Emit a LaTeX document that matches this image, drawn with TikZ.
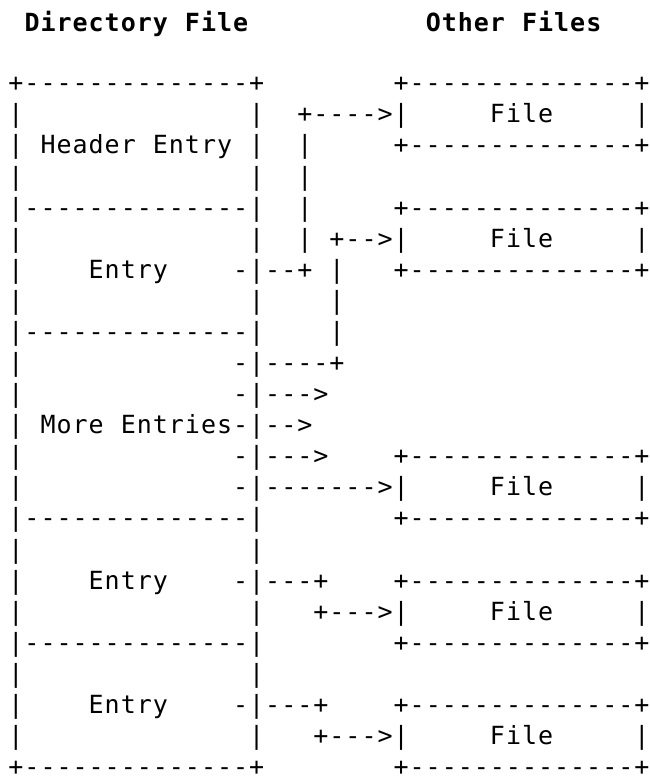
\documentclass[tikz,border=0pt]{standalone}
\usepackage{fontspec}
\newfontfamily\monof{DejaVu Sans Mono}
\ExplSyntaxOn
\NewDocumentCommand \asciirow { m }
  {
    \str_map_inline:nn {#1}
      {
        \str_if_eq:nnTF {##1} {.}
          { \hbox_to_wd:nn {16.05pt} { \hfil } }
          { \hbox_to_wd:nn {16.05pt} { \hfil ##1 \hfil } }
      }
  }
\ExplSyntaxOff
\tikzset{
  asciiline/.style={anchor=base west, inner sep=0pt, outer sep=0pt,
    font=\monof\fontsize{25pt}{31pt}\selectfont},
  asciititle/.style={asciiline, font=\monof\bfseries\fontsize{25pt}{31pt}\selectfont}
}
\begin{document}
\begin{tikzpicture}[x=1pt,y=1pt]
\useasboundingbox (0,0) rectangle (650,-776);
\def\lx{7.975}
\node[asciititle] (title) at (\lx,-31.7) {\asciirow{.Directory.File...........Other.Files}};
\node[asciiline] (r3)  at (\lx,{-91.8-0*31.08})  {\asciirow{+--------------+........+--------------+}};
\node[asciiline] (r4)  at (\lx,{-91.8-1*31.08})  {\asciirow{|..............|..+---->|.....File.....|}};
\node[asciiline] (r5)  at (\lx,{-91.8-2*31.08})  {\asciirow{|.Header.Entry.|..|.....+--------------+}};
\node[asciiline] (r6)  at (\lx,{-91.8-3*31.08})  {\asciirow{|..............|..|}};
\node[asciiline] (r7)  at (\lx,{-91.8-4*31.08})  {\asciirow{|--------------|..|.....+--------------+}};
\node[asciiline] (r8)  at (\lx,{-91.8-5*31.08})  {\asciirow{|..............|..|.+-->|.....File.....|}};
\node[asciiline] (r9)  at (\lx,{-91.8-6*31.08})  {\asciirow{|....Entry....-|--+.|...+--------------+}};
\node[asciiline] (r10) at (\lx,{-91.8-7*31.08})  {\asciirow{|..............|....|}};
\node[asciiline] (r11) at (\lx,{-91.8-8*31.08})  {\asciirow{|--------------|....|}};
\node[asciiline] (r12) at (\lx,{-91.8-9*31.08})  {\asciirow{|.............-|----+}};
\node[asciiline] (r13) at (\lx,{-91.8-10*31.08}) {\asciirow{|.............-|--->}};
\node[asciiline] (r14) at (\lx,{-91.8-11*31.08}) {\asciirow{|.More.Entries-|-->}};
\node[asciiline] (r15) at (\lx,{-91.8-12*31.08}) {\asciirow{|.............-|--->....+--------------+}};
\node[asciiline] (r16) at (\lx,{-91.8-13*31.08}) {\asciirow{|.............-|------->|.....File.....|}};
\node[asciiline] (r17) at (\lx,{-91.8-14*31.08}) {\asciirow{|--------------|........+--------------+}};
\node[asciiline] (r18) at (\lx,{-91.8-15*31.08}) {\asciirow{|..............|}};
\node[asciiline] (r19) at (\lx,{-91.8-16*31.08}) {\asciirow{|....Entry....-|---+....+--------------+}};
\node[asciiline] (r20) at (\lx,{-91.8-17*31.08}) {\asciirow{|..............|...+--->|.....File.....|}};
\node[asciiline] (r21) at (\lx,{-91.8-18*31.08}) {\asciirow{|--------------|........+--------------+}};
\node[asciiline] (r22) at (\lx,{-91.8-19*31.08}) {\asciirow{|..............|}};
\node[asciiline] (r23) at (\lx,{-91.8-20*31.08}) {\asciirow{|....Entry....-|---+....+--------------+}};
\node[asciiline] (r24) at (\lx,{-91.8-21*31.08}) {\asciirow{|..............|...+--->|.....File.....|}};
\node[asciiline, text depth=0pt] (r25) at (\lx,{-91.8-22*31.08}) {\asciirow{+--------------+........+--------------+}};
\end{tikzpicture}
\end{document}
